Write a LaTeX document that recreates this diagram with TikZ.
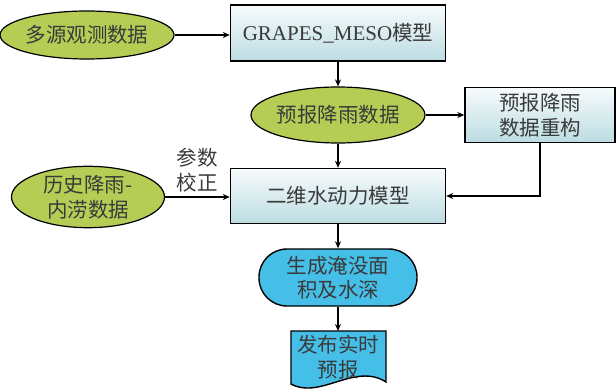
\documentclass[tikz,border=0pt]{standalone}
\usepackage{fontspec}
\setmainfont{Noto Sans CJK SC}
\newfontfamily\latfont{Liberation Serif}
\usetikzlibrary{shapes.geometric,arrows.meta}
\definecolor{txtgray}{HTML}{3A3A3A}
\definecolor{olive}{HTML}{B5CD55}
\definecolor{skyfill}{HTML}{45BFE8}
\definecolor{boxtop}{HTML}{F7FBFC}
\definecolor{boxbot}{HTML}{BCDCE2}
\tikzset{
  every node/.style={text=txtgray, font=\fontsize{20.5}{24.5}\selectfont},
  greenell/.style={ellipse, draw=black, line width=1.2pt, fill=olive, inner sep=0pt, minimum width=153pt, minimum height=#1, align=center},
  greenell/.default=48pt,
  gradbox/.style={rectangle, draw=black, line width=1.4pt, top color=boxtop, bottom color=boxbot, inner sep=0pt, minimum width=#1, align=center},
  conn/.style={line width=1.3pt, -{Stealth[length=7pt,width=6pt]}},
  plainline/.style={line width=1.3pt}
}
\begin{document}
\begin{tikzpicture}[x=1pt,y=-1pt]
\useasboundingbox (0,0) rectangle (616,390);
% nodes
\node[greenell=48pt] (obs) at (87,35) {多源观测数据};
\node[gradbox=215pt, minimum height=56pt] (grapes) at (338,33) {{\latfont\fontsize{21}{24}\selectfont GRAPES\_MESO}模型};
\node[greenell=56pt] (fore) at (338,115) {预报降雨数据};
\node[gradbox=150pt, minimum height=55pt] (recon) at (540,115) {预报降雨\\数据重构};
\node[gradbox=215pt, minimum height=55pt] (hydro) at (338,196) {二维水动力模型};
\node[greenell=56pt] (hist) at (88,197) {历史降雨-\\内涝数据};
\node[align=center, inner sep=0pt] (param) at (197,170) {参数\\校正};
\node[rectangle, rounded corners=28pt, draw=black, line width=1.4pt, fill=skyfill, minimum width=158pt, minimum height=57pt, inner sep=0pt, align=center] (flood) at (338,277.5) {生成淹没面\\积及水深};
% document shape
\coordinate (doctop) at (338,331);
\draw[line width=1.4pt, fill=skyfill] (291,331) -- (386,331) -- (386,382) .. controls (355,362) and (320,400) .. (291,384) -- cycle;
\node[align=center] (doc) at (338,357) {发布实时\\预报};
% connectors
\draw[conn] (obs.east) -- (obs.east -| grapes.west);
\draw[conn] (grapes.south) -- (fore.north);
\draw[conn] (fore.east) -- (recon.west);
\draw[conn] (fore.south) -- (hydro.north);
\draw[conn] (hist.east) -- (hist.east -| hydro.west);
\draw[conn] (recon.south) |- (hydro.east);
\draw[conn] (hydro.south) -- (flood.north);
\draw[conn] (flood.south) -- (doctop);
\end{tikzpicture}
\end{document}
